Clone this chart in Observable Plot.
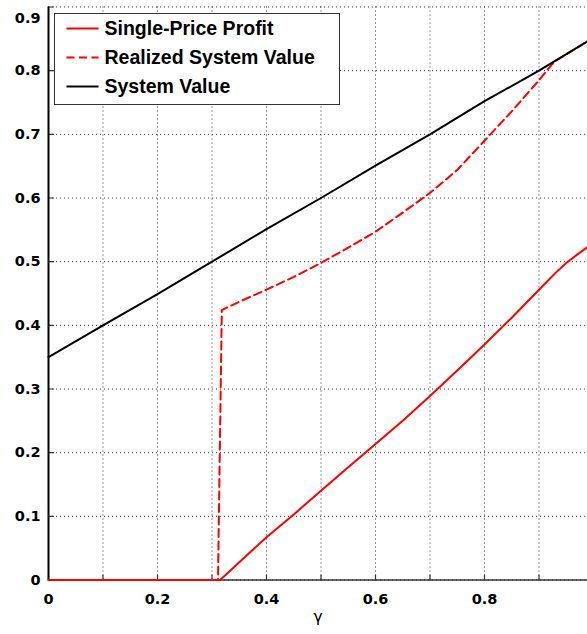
<!DOCTYPE html>
<html>
<head>
<meta charset="utf-8">
<script src="https://cdn.jsdelivr.net/npm/d3@7"></script>
<script src="https://cdn.jsdelivr.net/npm/@observablehq/plot@0.6"></script>
<style>
  html, body { margin: 0; padding: 0; background: white; }
  #wrap { position: relative; width: 587px; height: 634px; }
  #legend { position: absolute; left: 54px; top: 13px; width: 286px; height: 92px;
            box-sizing: border-box; border: 1.5px solid #333; background: white; }
</style>
</head>
<body>
<div id="wrap"><div id="chart"></div><div id="legend"></div></div>
<script>
// ---- data ----
const seriesNames = ["Single-Price Profit", "Realized System Value", "System Value"];

const systemX = [0, 0.1, 0.2, 0.3, 0.4, 0.5, 0.6, 0.7, 0.8, 0.9, 0.989];
const systemY = [0.35, 0.40, 0.449, 0.50, 0.551, 0.60, 0.651, 0.70, 0.752, 0.80, 0.846];

const realizedX = [0, 0.311, 0.318, 0.35, 0.4, 0.45, 0.5, 0.55, 0.6, 0.65, 0.7, 0.75, 0.8, 0.85, 0.9, 0.922, 0.93, 0.989];
const realizedY = [0, 0, 0.424, 0.437, 0.456, 0.476, 0.498, 0.522, 0.547, 0.577, 0.608, 0.644, 0.69, 0.736, 0.785, 0.808, 0.815, 0.846];

const singleX = [0, 0.315, 0.35, 0.4, 0.45, 0.5, 0.55, 0.6, 0.65, 0.7, 0.75, 0.8, 0.85, 0.9, 0.93, 0.95, 0.97, 0.989];
const singleY = [0, 0, 0.028, 0.067, 0.103, 0.140, 0.177, 0.2135, 0.25, 0.289, 0.329, 0.370, 0.412, 0.456, 0.482, 0.498, 0.511, 0.523];

const xGridTicks = [0, 0.1, 0.2, 0.3, 0.4, 0.5, 0.6, 0.7, 0.8, 0.9];
const xLabelTicks = [0, 0.2, 0.4, 0.6, 0.8];
const yGridTicks = [0, 0.1, 0.2, 0.3, 0.4, 0.5, 0.6, 0.7, 0.8, 0.9];
const yLabelTicks = [0, 0.1, 0.2, 0.3, 0.4, 0.5, 0.6, 0.7, 0.8];
const yTopLabel = [0.9];
const xAxisLabel = "γ";

// ---- build ----
const zip = (xs, ys) => xs.map((x, i) => ({x, y: ys[i]}));
const system = zip(systemX, systemY);
const realized = zip(realizedX, realizedY);
const single = zip(singleX, singleY);

const fmt = d => d === 0 ? "0" : d.toFixed(1);
const tickShape = {draw(ctx, l) { ctx.moveTo(0, 0); ctx.lineTo(0, -l); }};

const chart = Plot.plot({
  width: 587,
  height: 634,
  marginLeft: 48,
  marginRight: 0,
  marginTop: 6.5,
  marginBottom: 54.5,
  x: {domain: [0, 0.989]},
  y: {domain: [0, 0.9]},
  style: {fontFamily: "DejaVu Sans", fontWeight: "bold", fontSize: "14.5px", color: "black", background: "white", overflow: "visible"},
  marks: [
    Plot.gridX(xGridTicks, {stroke: "#000", strokeOpacity: 0.8, strokeDasharray: "1,3"}),
    Plot.gridY(yGridTicks, {stroke: "#000", strokeOpacity: 0.8, strokeDasharray: "1,3"}),
    Plot.ruleY([0], {stroke: "#333", strokeWidth: 1.5}),
    Plot.vector(xGridTicks, {x: d => d, y: () => 0, length: 5, rotate: 0, anchor: "start", shape: tickShape, stroke: "#333", strokeWidth: 1.2}),
    Plot.vector(yGridTicks, {x: () => 0, y: d => d, length: 5, rotate: 90, anchor: "start", shape: tickShape, stroke: "#333", strokeWidth: 1.2}),
    Plot.line(realized, {x: "x", y: "y", stroke: "#ff0000", strokeWidth: 2, strokeDasharray: "8,4.5"}),
    Plot.line(single, {x: "x", y: "y", stroke: "#ff0000", strokeWidth: 2}),
    Plot.line(system, {x: "x", y: "y", stroke: "#000", strokeWidth: 2}),
    Plot.ruleX([0], {stroke: "#000", strokeWidth: 2}),
    Plot.axisX(xLabelTicks, {tickSize: 0, tickPadding: 14, tickFormat: fmt, label: null}),
    Plot.axisY(yLabelTicks, {tickSize: 0, tickPadding: 8, tickFormat: fmt, label: null}),
    Plot.axisY(yTopLabel, {tickSize: 0, tickPadding: 8, tickFormat: fmt, label: null, dy: 11}),
    Plot.text([xAxisLabel], {text: d => d, frameAnchor: "bottom", dy: 42, fontWeight: "normal", fontSize: 16, fontFamily: "DejaVu Sans"})
  ]
});
document.getElementById("chart").appendChild(chart);

// ---- legend ----
const legendStyles = [
  {stroke: "#ff0000", dash: null},
  {stroke: "#ff0000", dash: "8,4.5"},
  {stroke: "#000", dash: null}
];
const ns = "http://www.w3.org/2000/svg";
const lsvg = document.createElementNS(ns, "svg");
lsvg.setAttribute("width", 283);
lsvg.setAttribute("height", 89);
lsvg.style.display = "block";
seriesNames.forEach((name, i) => {
  const cy = 14.5 + i * 29;
  const line = document.createElementNS(ns, "line");
  line.setAttribute("x1", 11.5);
  line.setAttribute("x2", 43.5);
  line.setAttribute("y1", cy);
  line.setAttribute("y2", cy);
  line.setAttribute("stroke", legendStyles[i].stroke);
  line.setAttribute("stroke-width", 2);
  if (legendStyles[i].dash) line.setAttribute("stroke-dasharray", legendStyles[i].dash);
  lsvg.appendChild(line);
  const t = document.createElementNS(ns, "text");
  t.setAttribute("x", 49.5);
  t.setAttribute("y", cy);
  t.setAttribute("dy", "0.35em");
  t.setAttribute("font-family", "Liberation Sans, Arial, sans-serif");
  t.setAttribute("font-weight", "bold");
  t.setAttribute("font-size", "19.5px");
  t.textContent = name;
  lsvg.appendChild(t);
});
document.getElementById("legend").appendChild(lsvg);
</script>
</body>
</html>
